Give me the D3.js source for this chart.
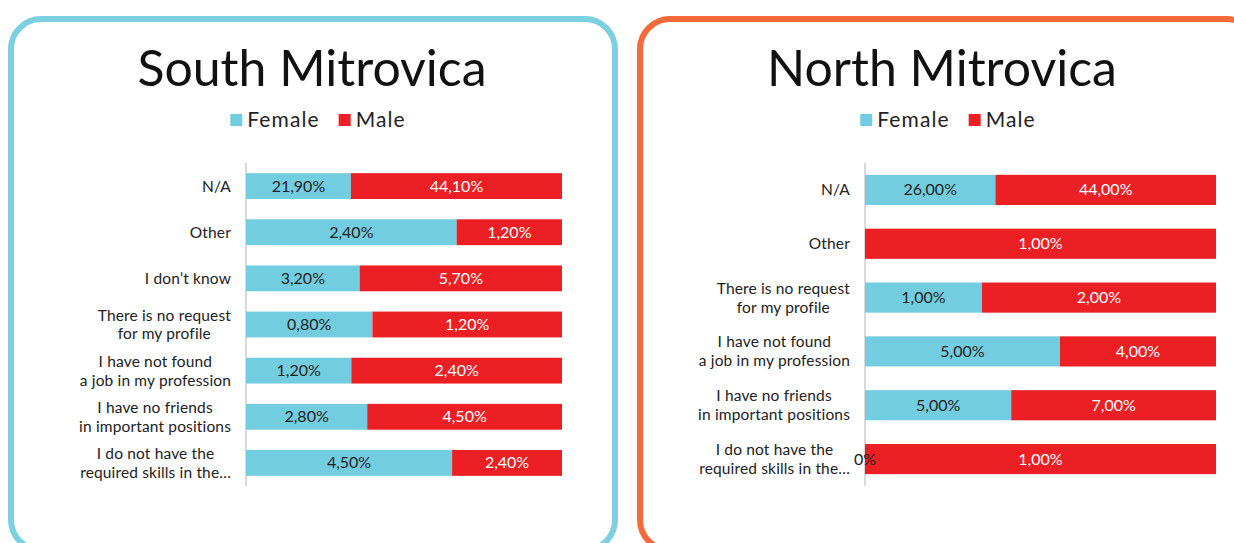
<!DOCTYPE html>
<html>
<head>
<meta charset="utf-8">
<script src="https://cdn.jsdelivr.net/npm/d3@7"></script>
<style>
  html, body { margin: 0; padding: 0; background: #fff; }
  svg { display: block; font-family: Lato, "Open Sans", sans-serif; }
</style>
</head>
<body>
<svg id="chart" width="1234" height="543"></svg>
<script>
// data
const seriesNames = ["Female", "Male"];
const seriesColors = ["#72cde0", "#ec2024"];

const southCategories = [
  "N/A",
  "Other",
  "I don\u2019t know",
  "There is no request\nfor my profile",
  "I have not found\na job in my profession",
  "I have no friends\nin important positions",
  "I do not have the\nrequired skills in the\u2026"
];
const southFemale = [21.9, 2.4, 3.2, 0.8, 1.2, 2.8, 4.5];
const southMale = [44.1, 1.2, 5.7, 1.2, 2.4, 4.5, 2.4];

const northCategories = [
  "N/A",
  "Other",
  "There is no request\nfor my profile",
  "I have not found\na job in my profession",
  "I have no friends\nin important positions",
  "I do not have the\nrequired skills in the\u2026"
];
const northFemale = [26, null, 1, 5, 5, 0];
const northMale = [44, 1, 2, 4, 7, 1];

const svg = d3.select("#chart");

function fmt(v) {
  if (v === 0) return "0%";
  return v.toFixed(2).replace(".", ",") + "%";
}

function drawPanel(p) {
  const g = svg.append("g");

  // frame
  g.append("rect")
    .attr("x", p.frame[0]).attr("y", p.frame[1])
    .attr("width", p.frame[2]).attr("height", p.frame[3])
    .attr("rx", 30).attr("ry", 30)
    .attr("fill", "none")
    .attr("stroke", p.frameColor)
    .attr("stroke-width", 6);

  // title
  g.append("text")
    .attr("x", p.cx).attr("y", 86)
    .attr("text-anchor", "middle")
    .attr("font-size", 50)
    .attr("fill", "#111")
    .text(p.title);

  // legend
  const leg = g.append("g");
  let lx = 0;
  seriesNames.forEach((s, i) => {
    const item = leg.append("g").attr("transform", `translate(${lx},0)`);
    item.append("rect").attr("x", 0).attr("y", -6).attr("width", 12).attr("height", 12)
      .attr("fill", seriesColors[i]);
    const t = item.append("text").attr("x", 17).attr("y", 7)
      .attr("font-size", 21).attr("letter-spacing", 1.1)
      .attr("fill", "#222").text(s);
    lx += 17 + t.node().getComputedTextLength() + 19;
  });
  const legW = lx - 19;
  leg.attr("transform", `translate(${p.legendCx - legW / 2},120)`);

  const rows = p.categories.map((c, i) => ({
    cat: c, f: p.female[i], m: p.male[i]
  }));

  const x = d3.scaleLinear().domain([0, 1]).range([p.x0, p.x1]);
  const y = d3.scaleBand().domain(p.categories).range([163, 486]).paddingInner(0.44).paddingOuter(0.22);

  // axis line (behind the labels)
  g.append("line")
    .attr("x1", x(0)).attr("x2", x(0))
    .attr("y1", 163).attr("y2", 486)
    .attr("stroke", "#d9d9d9").attr("stroke-width", 2);

  const row = g.selectAll(".row").data(rows).enter().append("g")
    .attr("class", "row")
    .attr("transform", d => `translate(0,${y(d.cat)})`);

  const share = d => (d.f || 0) / ((d.f || 0) + d.m);

  row.append("rect")
    .attr("x", x(0))
    .attr("width", d => x(share(d)) - x(0))
    .attr("height", y.bandwidth())
    .attr("fill", seriesColors[0]);
  row.append("rect")
    .attr("x", d => x(share(d)))
    .attr("width", d => x(1) - x(share(d)))
    .attr("height", y.bandwidth())
    .attr("fill", seriesColors[1]);

  // value labels
  row.filter(d => d.f !== null).append("text")
    .attr("x", d => (x(0) + x(share(d))) / 2)
    .attr("y", y.bandwidth() / 2 + 5.5)
    .attr("text-anchor", "middle")
    .attr("font-size", 16)
    .attr("fill", "#222")
    .text(d => fmt(d.f));
  row.append("text")
    .attr("x", d => (x(share(d)) + x(1)) / 2)
    .attr("y", y.bandwidth() / 2 + 5.5)
    .attr("text-anchor", "middle")
    .attr("font-size", 16)
    .attr("fill", "#fff")
    .text(d => fmt(d.m));

  // category labels: lines centred on each other, block right aligned
  row.each(function (d) {
    const lines = d.cat.split("\n");
    const lab = d3.select(this).append("g");
    const ts = lines.map((l, i) => lab.append("text")
      .attr("y", y.bandwidth() / 2 + 5.5 + (i - (lines.length - 1) / 2) * 19)
      .attr("text-anchor", "middle")
      .attr("font-size", 15.5)
      .attr("letter-spacing", 0.15)
      .attr("fill", "#222")
      .text(l));
    const w = d3.max(ts, t => t.node().getComputedTextLength());
    ts.forEach(t => t.attr("x", p.labelRight - w / 2));
  });
}

drawPanel({
  title: "South Mitrovica", frame: [11, 19, 604, 531], frameColor: "#7dd0e2",
  cx: 312, legendCx: 318, x0: 246, x1: 562, labelRight: 231,
  categories: southCategories, female: southFemale, male: southMale
});
drawPanel({
  title: "North Mitrovica", frame: [640, 19, 617, 531], frameColor: "#f46a3a",
  cx: 942, legendCx: 948, x0: 865, x1: 1216, labelRight: 850,
  categories: northCategories, female: northFemale, male: northMale
});
</script>
</body>
</html>
